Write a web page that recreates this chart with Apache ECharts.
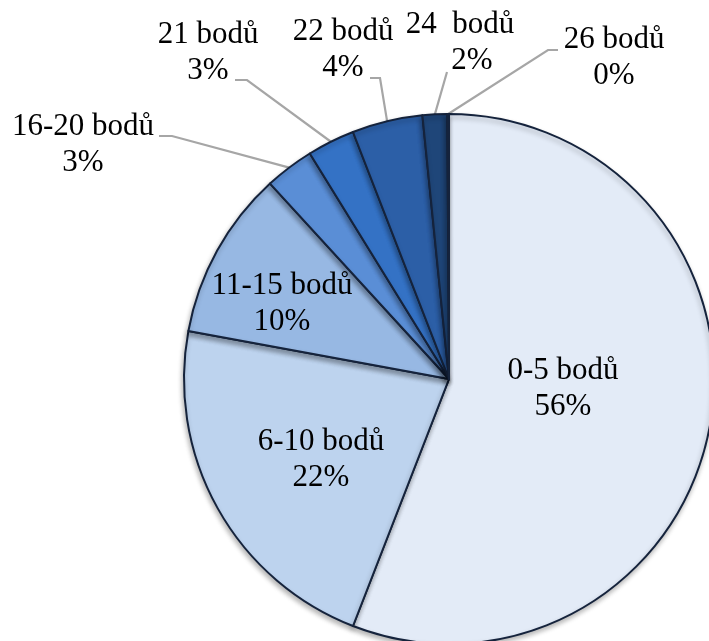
<!DOCTYPE html>
<html>
<head>
<meta charset="utf-8">
<script src="https://cdn.jsdelivr.net/npm/echarts@6/dist/echarts.min.js"></script>
<style>
  html, body { margin: 0; padding: 0; background: #ffffff; }
  #chart { width: 709px; height: 641px; }
</style>
</head>
<body>
<div id="chart"></div>
<script>
// Point bands and their share of results (percent)
const categories = ['0-5 bodů', '6-10 bodů', '11-15 bodů', '16-20 bodů', '21 bodů', '22 bodů', '24  bodů', '26 bodů'];
const shares = [55.9, 22.0, 10.3, 3.0, 2.9, 4.3, 1.5, 0.1];
const colors = ['#E3EBF7', '#BDD3EE', '#97B8E3', '#5A8ED6', '#3472C5', '#2C5FA7', '#1F4679', '#183660'];

// Pie geometry (px)
const CX = 449, CY = 379, R = 265;

// Label anchors: [x, y] of label centre, elbow points of the leader line,
// and an optional indent of the percent line
const labelSpots = [
  { pos: [563, 389] },
  { pos: [321, 460] },
  { pos: [282, 304] },
  { pos: [83, 145], line: [[159, 136], [172, 136]] },
  { pos: [208, 53], line: [[235, 80], [247, 80]] },
  { pos: [343, 50], line: [[370, 78], [380, 78]] },
  { pos: [460, 43], line: [[447, 72], [447, 72]], indent: 24 },
  { pos: [614, 58], line: [[558, 50], [548, 50]] }
];

const total = shares.reduce((a, b) => a + b, 0);
// Point on the rim at the middle angle of slice i (clockwise from 12 o'clock)
function rimPoint(i) {
  let before = 0;
  for (let k = 0; k < i; k++) before += shares[k];
  const mid = (before + shares[i] / 2) / total * Math.PI * 2;
  return [CX + R * Math.sin(mid), CY - R * Math.cos(mid)];
}

const data = categories.map((name, i) => {
  const spot = labelSpots[i];
  const outside = !!spot.line;
  const item = {
    name: name,
    value: shares[i],
    itemStyle: { color: colors[i] },
    label: { position: outside ? 'outside' : 'inside' },
    labelLine: { show: outside }
  };
  if (spot.indent) {
    item.label.formatter = '{b}\n{pct|{d}%}';
    item.label.rich = { pct: { padding: [0, 0, 0, spot.indent] } };
  }
  return item;
});

const chart = echarts.init(document.getElementById('chart'), null, { renderer: 'canvas' });
chart.setOption({
  backgroundColor: '#ffffff',
  animation: false,
  series: [{
    type: 'pie',
    center: [CX, CY],
    radius: R,
    startAngle: 90,
    clockwise: true,
    avoidLabelOverlap: false,
    percentPrecision: 0,
    data: data,
    itemStyle: {
      borderColor: '#15233C',
      borderWidth: 2,
      shadowColor: 'rgba(0,0,0,0.28)',
      shadowBlur: 5,
      shadowOffsetX: -1,
      shadowOffsetY: 3
    },
    label: {
      show: true,
      formatter: '{b}\n{d}%',
      color: '#000000',
      fontFamily: 'Liberation Serif',
      fontSize: 31,
      lineHeight: 36,
      align: 'center'
    },
    labelLine: {
      show: true,
      lineStyle: { color: '#A6A6A6', width: 2.2 }
    },
    labelLayout: function (params) {
      const i = params.dataIndex;
      const spot = labelSpots[i];
      const out = { x: spot.pos[0], y: spot.pos[1], align: 'center', verticalAlign: 'middle' };
      if (spot.line) {
        out.labelLinePoints = [spot.line[0], spot.line[1], rimPoint(i)];
      }
      return out;
    }
  }]
});
</script>
</body>
</html>
